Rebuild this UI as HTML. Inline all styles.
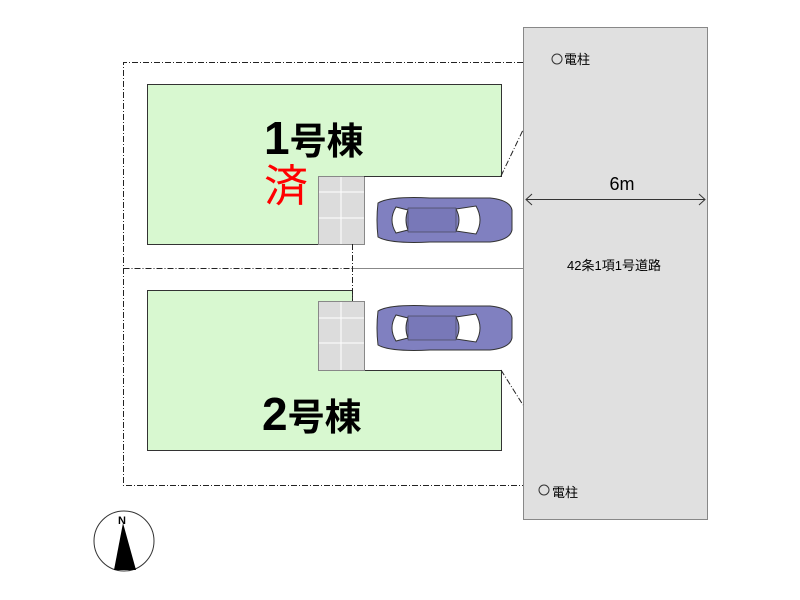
<!DOCTYPE html>
<html><head><meta charset="utf-8"><style>
body{margin:0;background:#fff}
svg{display:block}
text{font-family:"Liberation Sans","Noto Sans CJK JP",sans-serif}
</style></head><body>
<svg width="800" height="600" viewBox="0 0 800 600" xmlns="http://www.w3.org/2000/svg">
<rect width="800" height="600" fill="#fff"/>
<rect x="523.5" y="27.5" width="184" height="492" fill="#e0e0e0" stroke="#888"/>
<polygon points="147.5,84.5 501.5,84.5 501.5,176.5 318.5,176.5 318.5,244.5 147.5,244.5" fill="#d8f8d0" stroke="#333"/>
<polygon points="147.5,290.5 352.5,290.5 352.5,301.5 318.5,301.5 318.5,370.5 501.5,370.5 501.5,450.5 147.5,450.5" fill="#d8f8d0" stroke="#333"/>
<g fill="#dcdcdc" stroke="#888">
<rect x="318.5" y="176.5" width="46" height="68"/>
<rect x="318.5" y="301.5" width="46" height="69"/>
</g>
<g stroke="#fff" stroke-width="1">
<line x1="341" y1="177" x2="341" y2="244"/><line x1="319" y1="192" x2="364" y2="192"/><line x1="319" y1="218" x2="364" y2="218"/>
<line x1="341" y1="302" x2="341" y2="370"/><line x1="319" y1="318" x2="364" y2="318"/><line x1="319" y1="343" x2="364" y2="343"/>
</g>
<line x1="364" y1="176.5" x2="501" y2="176.5" stroke="#333"/>
<g fill="none" stroke="#222" stroke-dasharray="6,2,1,2">
<polyline points="523,62.5 123.5,62.5 123.5,485.5 523,485.5"/>
<polyline points="123.5,268.5 352.5,268.5"/>
<line x1="352.5" y1="244" x2="352.5" y2="301"/>
<line x1="501" y1="176" x2="523" y2="130"/>
<line x1="501" y1="370" x2="523" y2="405"/>
</g>
<line x1="353" y1="268.5" x2="523" y2="268.5" stroke="#888"/>
<g id="car">
<path d="M378,203 Q376,220 378,237 Q390,244 430,242 L490,242 Q510,240 512,230 L512,210 Q510,200 490,198 L430,198 Q390,196 378,203 Z" fill="#8080c0" stroke="#333"/>
<path d="M396,207 Q388,220 396,233 L408,230 Q404,220 408,210 Z" fill="#fff" stroke="#333"/>
<path d="M456,209 Q462,220 456,231 L476,234 Q484,220 476,206 Z" fill="#fff" stroke="#333"/>
<rect x="408" y="208" width="48" height="24" fill="#7878b8" stroke="#333" stroke-width="0.5"/>
</g>
<use href="#car" transform="translate(0,108)"/>
<line x1="526" y1="199.5" x2="705" y2="199.5" stroke="#333"/>
<polyline points="532,194 526,199.5 532,205" fill="none" stroke="#333"/>
<polyline points="699,194 705,199.5 699,205" fill="none" stroke="#333"/>
<text x="622" y="190" font-size="18" text-anchor="middle">6m</text>
<text x="614" y="270" font-size="13" text-anchor="middle">42条1項1号道路</text>
<circle cx="557" cy="59" r="5" fill="none" stroke="#333"/>
<text x="564" y="64" font-size="13">電柱</text>
<circle cx="544" cy="490" r="5" fill="none" stroke="#333"/>
<text x="552" y="497" font-size="13">電柱</text>
<text x="264" y="154" font-size="46" font-weight="bold">1<tspan font-size="37">号棟</tspan></text>
<text x="264" y="201" font-size="44" fill="#ff0000">済</text>
<text x="262" y="430" font-size="46" font-weight="bold">2<tspan font-size="37">号棟</tspan></text>
<circle cx="124" cy="541" r="30" fill="none" stroke="#333"/>
<text x="122" y="524" font-size="11" font-weight="bold" font-family="Liberation Serif" text-anchor="middle">N</text>
<polygon points="123,523 114,570 136,570" fill="#000"/>
</svg>
</body></html>
